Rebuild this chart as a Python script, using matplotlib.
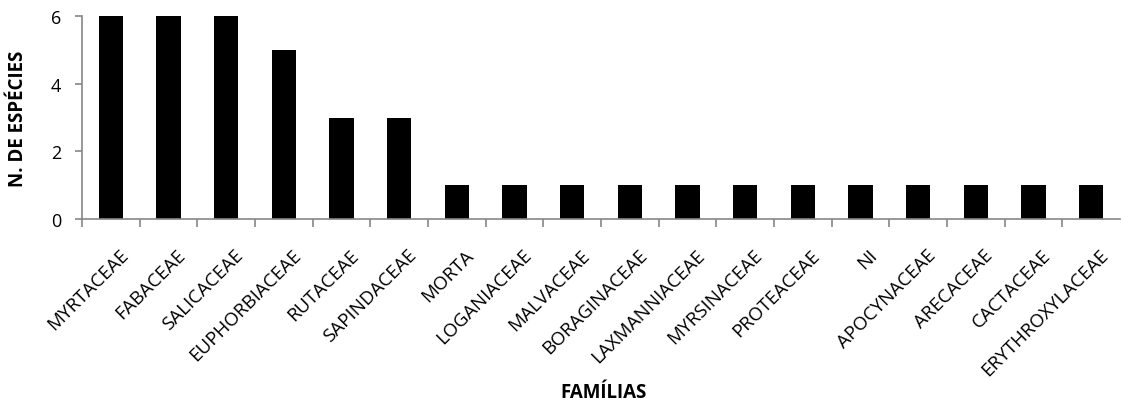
import matplotlib
matplotlib.use("Agg")
import matplotlib.pyplot as plt
import matplotlib.transforms as mtransforms
import numpy as np

familias = ["MYRTACEAE", "FABACEAE", "SALICACEAE", "EUPHORBIACEAE", "RUTACEAE",
            "SAPINDACEAE", "MORTA", "LOGANIACEAE", "MALVACEAE", "BORAGINACEAE",
            "LAXMANNIACEAE", "MYRSINACEAE", "PROTEACEAE", "NI", "APOCYNACEAE",
            "ARECACEAE", "CACTACEAE", "ERYTHROXYLACEAE"]
n_especies = [6, 6, 6, 5, 3, 3, 1, 1, 1, 1, 1, 1, 1, 1, 1, 1, 1, 1]
y_ticks = [0, 2, 4, 6]

plt.rcParams['font.family'] = ['Open Sans', 'DejaVu Sans']

fig = plt.figure(figsize=(11.22, 4.06), dpi=100)
ax = fig.add_axes([82/1122, 1-220/406, 1038/1122, 203/406])

x = np.arange(len(familias))
ax.bar(x, n_especies, width=0.42, color='black')

ax.set_xlim(-0.5, len(familias) - 0.5)
ax.set_ylim(0, 6)
ax.set_yticks(y_ticks)
ax.tick_params(axis='y', labelsize=13, length=5, color='#868686', width=1.2, pad=10)

# ticks on category boundaries, labels at centers
ax.set_xticks(np.arange(len(familias)) - 0.5, minor=False)
ax.set_xticklabels([])
ax.set_xticks(x, minor=True)
ax.set_xticklabels(familias, minor=True, rotation=45, ha='right',
                   rotation_mode='anchor', fontsize=13.5)
ax.tick_params(axis='x', which='major', length=6, color='#868686', width=1.2)
ax.tick_params(axis='x', which='minor', length=0, pad=19)
shift = mtransforms.ScaledTranslation(8/100, 0, fig.dpi_scale_trans)
for lbl in ax.get_xticklabels(minor=True):
    lbl.set_transform(lbl.get_transform() + shift)

for s in ['top', 'right']:
    ax.spines[s].set_visible(False)
for s in ['left', 'bottom']:
    ax.spines[s].set_color('#868686')
    ax.spines[s].set_linewidth(1.2)

ax.set_ylabel('N. DE ESPÉCIES', fontsize=13.5, fontweight='bold')
ax.yaxis.set_label_coords(-(82 - 28) / 1038, 0.5)
fig.text(604/1122, 1-393/406, 'FAMÍLIAS', fontsize=13.5, fontweight='bold',
         ha='center', va='center')

fig.savefig('out.png', dpi=100)
